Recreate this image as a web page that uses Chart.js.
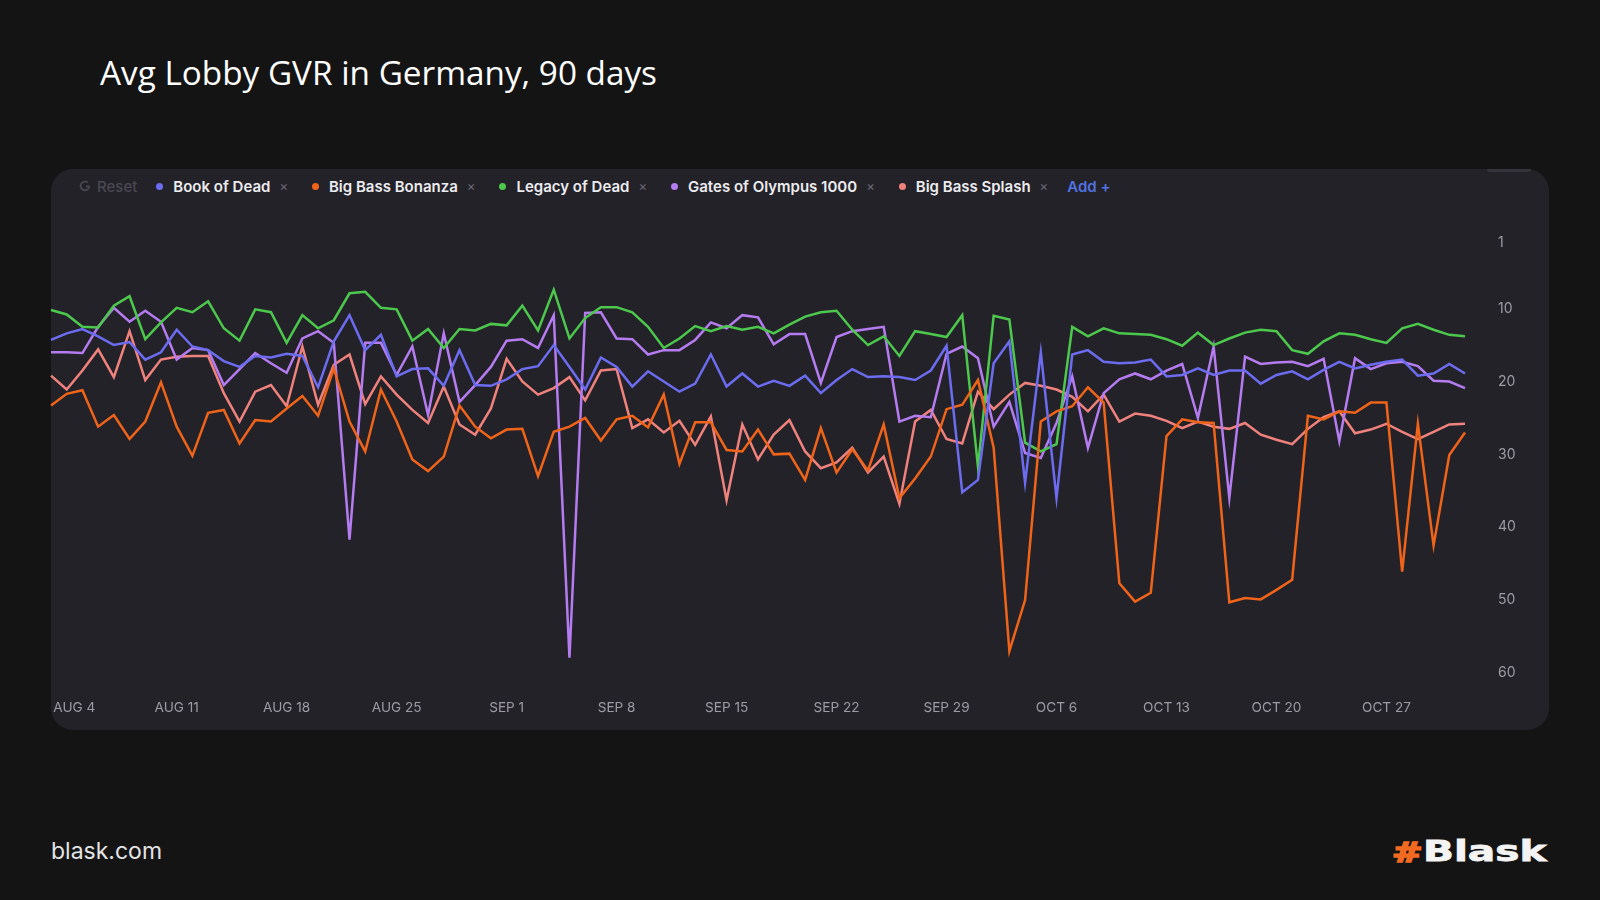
<!DOCTYPE html>
<html>
<head>
<meta charset="utf-8">
<title>Avg Lobby GVR in Germany, 90 days</title>
<script src="https://cdn.jsdelivr.net/npm/chart.js@4.4.1/dist/chart.umd.min.js"></script>
<style>
  html, body { margin: 0; padding: 0; }
  body {
    width: 1600px; height: 900px; overflow: hidden; position: relative;
    background: #141414; font-family: Inter, "Noto Sans", sans-serif;
  }
  #title {
    position: absolute; left: 100px; top: 55px; white-space: nowrap;
    font-family: "Open Sans", sans-serif; font-size: 33.3px; line-height: 34px; color: #ffffff;
  }
  #card {
    position: absolute; left: 51px; top: 169px; width: 1498px; height: 561px;
    background: #242229; border-radius: 22px;
  }
  #tab {
    position: absolute; left: 1487px; top: 169px; width: 44px; height: 3px;
    background: #34323a; border-radius: 0 0 3px 3px;
  }
  #legend {
    position: absolute; left: 79px; top: 176px; height: 20px;
    display: flex; align-items: center; white-space: nowrap;
    font-size: 15px; font-weight: 600; color: #ececf0;
  }
  #legend .reset { display: flex; align-items: center; color: #4a4852; font-weight: 500; margin-right: 19px; }
  #legend .reset svg { margin-right: 6px; }
  #legend .item { display: flex; align-items: center; margin-right: 24px; }
  #legend .item i { display: block; width: 7px; height: 7px; border-radius: 50%; margin-right: 10px; }
  #legend .item b { color: #6b6973; font-weight: 400; font-size: 13px; margin-left: 9px; }
  #legend .add { color: #5173e0; margin-left: -5px; }
  #chartBox { position: absolute; left: 0; top: 169px; width: 1549px; height: 561px; }
  #site {
    position: absolute; left: 51px; top: 840px; font-size: 23px; line-height: 23px;
    color: #e4e4e4; font-family: Inter, sans-serif;
  }
  #hash, #brand {
    position: absolute; font-family: "DejaVu Sans", sans-serif; font-weight: bold;
    transform: scaleX(1.4); transform-origin: left center; white-space: nowrap;
  }
  #hash { left: 1392px; top: 840px; font-size: 26px; line-height: 26px; color: #f26a21; -webkit-text-stroke: 1.6px #f26a21; }
  #brand { left: 1423px; top: 837px; font-size: 29px; line-height: 29px; color: #f4f4f4; -webkit-text-stroke: 0.8px #f4f4f4; }
</style>
</head>
<body>
<div id="title">Avg Lobby GVR in Germany, 90 days</div>
<div id="card"></div>
<div id="tab"></div>
<div id="legend"></div>
<div id="chartBox"><canvas id="chart"></canvas></div>
<div id="site">blask.com</div>
<div id="hash">#</div>
<div id="brand">Blask</div>

<script>
"use strict";

// 91 daily points, Aug 3 -> Nov 1 (avg lobby position, 1 = top)
const firstDay = new Date(2025, 7, 3);
const days = [];
for (let i = 0; i < 91; i++) {
    let d = new Date(firstDay);
    d.setDate(firstDay.getDate() + i);
    days.push(d.toISOString().slice(0, 10));
}

// axis ticks
const xTickLabels = ["AUG 4", "AUG 11", "AUG 18", "AUG 25", "SEP 1", "SEP 8", "SEP 15",
                     "SEP 22", "SEP 29", "OCT 6", "OCT 13", "OCT 20", "OCT 27"];
const firstTickIdx = 1; // AUG 4 is the 2nd day
const yTicks = [1, 10, 20, 30, 40, 50, 60];

// series
const seriesNames = ["Book of Dead", "Big Bass Bonanza", "Legacy of Dead", "Gates of Olympus 1000", "Big Bass Splash"];
const seriesColors = ["#6c6cf0", "#f06419", "#4cc84c", "#b47cf0", "#f0827d"];

const bookOfDead = [
    14.3, 13.4, 12.8, 13.8, 15.0, 14.6, 17.0, 16.0, 12.9, 15.2,
    15.7, 17.2, 18.0, 16.5, 16.7, 16.2, 16.5, 20.8, 14.5, 10.9,
    15.7, 13.6, 19.3, 18.3, 18.2, 20.6, 15.7, 20.5, 20.6, 19.7,
    18.3, 17.9, 15.0, 18.0, 21.1, 16.7, 18.0, 20.7, 18.6, 20.0,
    21.4, 20.3, 16.3, 20.7, 18.9, 20.7, 19.9, 20.6, 19.2, 21.6,
    19.8, 18.3, 19.4, 19.3, 19.4, 19.8, 18.5, 15.1, 35.2, 33.5,
    17.5, 14.5, 33.9, 16.0, 36.0, 16.3, 15.7, 17.3, 17.5, 17.4,
    17.0, 19.3, 19.1, 18.2, 19.1, 18.5, 18.5, 20.3, 19.1, 18.6,
    19.7, 18.4, 17.3, 18.2, 17.7, 17.3, 17.0, 19.2, 18.9, 17.6,
    18.9
];
const bigBassBonanza = [
    23.3, 21.7, 21.2, 26.2, 24.6, 27.9, 25.5, 20.1, 26.2, 30.2,
    24.3, 23.9, 28.5, 25.3, 25.5, 23.7, 22.0, 24.7, 18.2, 25.5,
    29.6, 21.1, 25.5, 30.7, 32.3, 30.3, 23.3, 26.2, 27.8, 26.6,
    26.5, 33.0, 26.9, 26.2, 25.0, 28.1, 25.2, 24.7, 26.3, 21.8,
    31.3, 25.6, 25.6, 29.4, 29.6, 26.6, 30.0, 29.9, 33.5, 26.4,
    32.5, 29.3, 32.2, 25.9, 36.0, 33.3, 30.3, 23.8, 23.2, 19.8,
    29.1, 57.0, 50.0, 25.5, 24.1, 23.4, 20.8, 22.9, 47.7, 50.2,
    49.0, 27.5, 25.2, 25.6, 25.7, 50.3, 49.7, 49.9, 48.6, 47.2,
    24.7, 25.2, 24.1, 24.3, 22.9, 22.9, 46.1, 25.8, 42.5, 30.1,
    27.0
];
const legacyOfDead = [
    10.2, 10.8, 12.5, 12.6, 9.6, 8.3, 14.2, 11.9, 9.9, 10.5,
    9.0, 12.7, 14.4, 10.1, 10.5, 14.7, 10.9, 12.7, 11.6, 7.9,
    7.7, 9.9, 10.1, 14.4, 12.8, 15.4, 12.8, 13.0, 12.1, 12.3,
    9.6, 13.0, 7.4, 14.1, 11.3, 9.8, 9.8, 10.5, 12.5, 15.4,
    14.1, 12.4, 13.1, 12.4, 12.9, 12.5, 13.4, 12.2, 11.1, 10.5,
    10.3, 12.9, 15.0, 13.8, 16.5, 13.1, 13.5, 13.9, 10.9, 31.7,
    11.0, 11.5, 28.4, 29.6, 28.6, 12.5, 13.8, 12.7, 13.4, 13.5,
    13.6, 14.2, 15.1, 13.3, 15.0, 14.1, 13.3, 12.9, 13.1, 15.7,
    16.2, 14.5, 13.4, 13.6, 14.2, 14.7, 12.7, 12.1, 12.9, 13.6,
    13.8
];
const gatesOfOlympus = [
    16.0, 16.0, 16.1, 12.5, 9.9, 11.8, 10.3, 11.8, 17.0, 15.4,
    15.7, 20.5, 18.3, 16.1, 17.5, 18.8, 14.1, 13.1, 14.7, 41.7,
    14.7, 14.7, 19.1, 15.2, 24.6, 13.4, 22.8, 20.5, 18.0, 14.4,
    14.2, 15.4, 10.9, 57.9, 10.6, 10.5, 14.1, 14.2, 16.3, 15.7,
    15.7, 14.3, 11.9, 12.7, 10.9, 11.2, 14.9, 13.5, 13.5, 20.2,
    13.9, 13.1, 12.8, 12.5, 25.5, 24.7, 24.9, 16.2, 15.2, 16.8,
    26.2, 22.8, 29.8, 30.5, 25.7, 19.3, 29.1, 21.6, 19.7, 18.9,
    19.7, 18.5, 17.6, 25.0, 15.2, 36.0, 16.6, 17.6, 17.4, 17.3,
    17.9, 16.9, 28.2, 16.8, 18.3, 17.5, 17.3, 17.9, 19.9, 20.0,
    20.9
];
const bigBassSplash = [
    19.2, 21.1, 18.5, 15.6, 19.4, 13.1, 19.8, 17.0, 16.6, 16.5,
    16.5, 21.6, 25.5, 21.4, 20.5, 23.4, 15.2, 23.2, 17.7, 16.3,
    23.1, 19.3, 21.8, 23.9, 25.7, 20.7, 25.9, 27.3, 23.7, 16.9,
    20.0, 21.8, 20.9, 19.4, 22.6, 18.5, 18.3, 26.4, 25.2, 27.0,
    25.4, 28.7, 24.8, 36.3, 25.9, 30.7, 27.3, 25.3, 29.6, 31.9,
    31.1, 29.1, 32.5, 30.3, 36.8, 25.5, 23.9, 27.9, 28.5, 21.4,
    23.8, 21.8, 20.2, 20.6, 21.1, 22.1, 24.1, 21.8, 25.5, 24.4,
    24.7, 25.4, 26.4, 25.5, 26.2, 26.5, 25.7, 27.3, 28.0, 28.6,
    26.5, 24.9, 24.1, 27.1, 26.6, 25.8, 26.9, 27.9, 26.9, 25.9,
    25.8
];
const seriesData = [bookOfDead, bigBassBonanza, legacyOfDead, gatesOfOlympus, bigBassSplash];

// legend row (html, like the dashboard)
let legend = document.getElementById("legend");
let html = '<span class="reset"><svg width="12" height="12" viewBox="0 0 12 12">' +
    '<path d="M10.4 6.3A4.4 4.4 0 1 1 8.9 2.6" fill="none" stroke="#4a4852" stroke-width="1.7"/>' +
    '<path d="M7 6.4h3.6" stroke="#4a4852" stroke-width="1.7"/></svg>Reset</span>';
seriesNames.forEach((name, i) => {
    html += '<span class="item"><i style="background:' + seriesColors[i] + '"></i>' + name + '<b>\u00d7</b></span>';
});
html += '<span class="add">Add +</span>';
legend.innerHTML = html;

const ctx = document.getElementById("chart").getContext("2d");
new Chart(ctx, {
    type: "line",
    data: {
        labels: days,
        datasets: seriesNames.map((name, i) => ({
            label: name,
            data: seriesData[i],
            borderColor: seriesColors[i],
            backgroundColor: seriesColors[i],
            borderWidth: 2.5,
            pointRadius: 0,
            tension: 0,
            fill: false
        }))
    },
    options: {
        responsive: true,
        maintainAspectRatio: false,
        animation: false,
        layout: { padding: { left: 51, top: 74, right: 0, bottom: 0 } },
        plugins: { legend: { display: false }, tooltip: { enabled: false } },
        scales: {
            x: {
                type: "category",
                grid: { display: false, drawTicks: false },
                border: { display: false },
                afterBuildTicks: s => { s.ticks = xTickLabels.map((l, k) => ({ value: firstTickIdx + 7 * k })); },
                afterFit: s => { s.height = 57; },
                ticks: {
                    autoSkip: false, maxRotation: 0, padding: 27,
                    color: "#9d9ba5", font: { family: "Inter", size: 13.6 },
                    // first label sits inside the card edge
                    callback: (v, i) => i === 0 ? "    " + xTickLabels[0] : xTickLabels[i]
                }
            },
            y: {
                position: "right",
                reverse: true,
                min: 1,
                max: 60,
                grid: { display: false, drawTicks: false },
                border: { display: false },
                afterBuildTicks: s => { s.ticks = yTicks.map(v => ({ value: v })); },
                afterFit: s => { s.width = 84; },
                ticks: { padding: 33, color: "#9d9ba5", font: { family: "Inter", size: 14 } }
            }
        }
    }
});
</script>
</body>
</html>
